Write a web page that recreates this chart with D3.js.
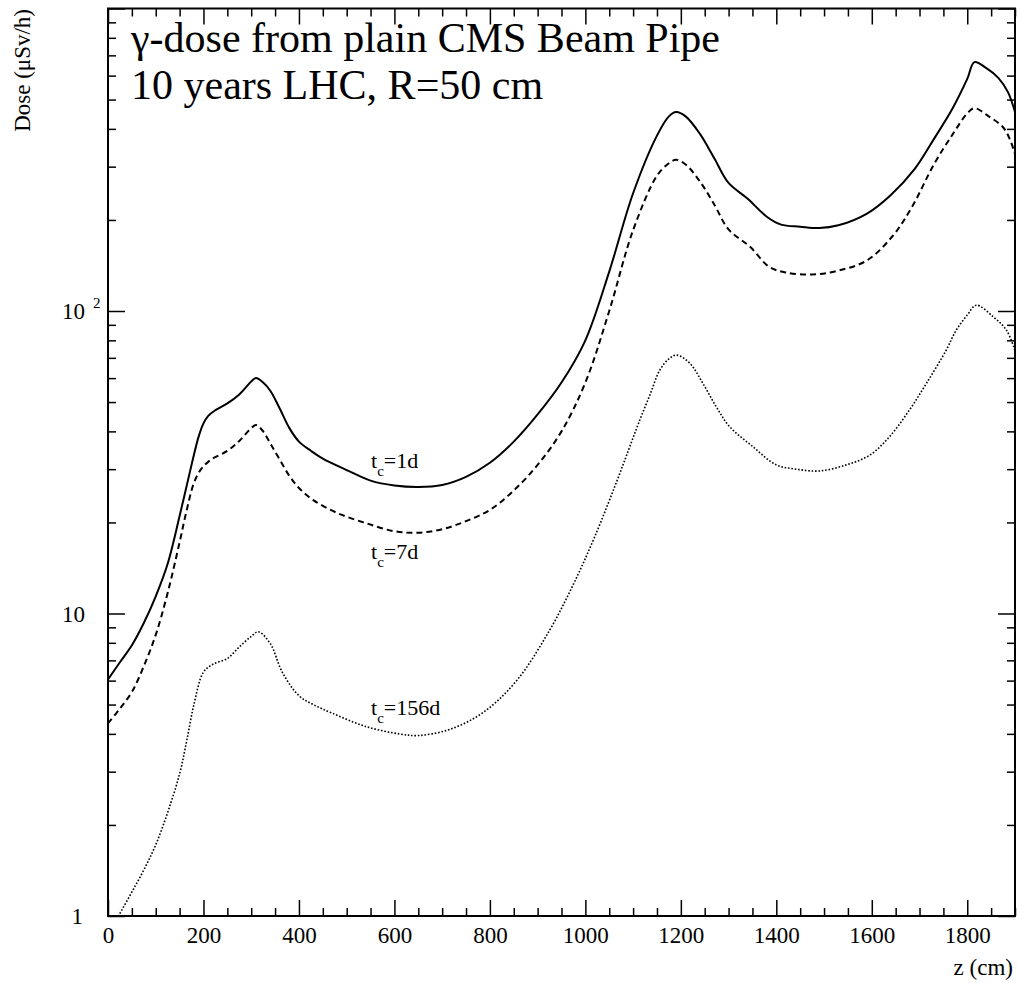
<!DOCTYPE html>
<html>
<head>
<meta charset="utf-8">
<script src="https://cdn.jsdelivr.net/npm/d3@7"></script>
<style>
  html, body { margin: 0; padding: 0; background: #fff; }
  svg { display: block; }
  text { font-family: "Liberation Serif", "Times New Roman", serif; fill: #000; }
</style>
</head>
<body>
<script>
// ---- data ----
const z1d = [0,25,50,75,100,125,150,175,190,200,210,225,250,275,300,310,325,340,360,380,400,425,450,500,550,600,650,700,750,800,850,900,950,1000,1050,1100,1150,1175,1190,1210,1240,1270,1300,1340,1380,1410,1450,1490,1530,1590,1640,1690,1730,1770,1800,1815,1840,1865,1885,1900];
const dose1d = [6.05,6.9,7.85,9.3,11.4,14.6,21,31,38.5,42.5,45,47,49.5,53,58.5,60,58,54.5,47.5,41,37,34.5,32.5,29.8,27.5,26.5,26.2,26.6,28.3,31.5,37,45.5,58,80,135,245,380,440,455,440,385,320,265,235,205,193,190,188,192,210,242,295,370,470,585,665,635,590,530,455];

const z7d = [0,25,50,75,100,125,150,165,180,195,215,250,275,300,310,325,340,360,380,400,430,480,540,600,650,700,750,800,850,900,950,1000,1050,1100,1150,1175,1190,1210,1240,1270,1300,1345,1385,1420,1475,1530,1590,1645,1685,1730,1770,1800,1815,1845,1875,1890,1900];
const dose7d = [4.33,4.85,5.5,6.7,8.5,11.7,17.2,22,27,30,32.2,34.5,37.2,41,42,40,36.5,32.2,28.5,26,23.7,21.5,19.9,18.7,18.5,19,20.2,22,25.5,31,40,58,100,185,280,308,316,305,268,225,186,163,140,134,132,136,147,178,222,305,385,450,468,440,405,367,330];

const z156d = [0,25,50,75,100,125,150,165,180,200,220,250,275,300,315,340,365,400,430,470,540,610,650,716,786,856,925,975,1020,1072,1093,1114,1135,1156,1175,1191,1219,1246,1274,1302,1351,1400,1442,1491,1547,1596,1637,1679,1714,1756,1777,1800,1819,1854,1882,1900];
const dose156d = [0.87,1.02,1.2,1.42,1.72,2.2,2.95,3.8,5.0,6.4,6.8,7.1,7.75,8.4,8.7,7.95,6.4,5.35,5.0,4.68,4.23,4.0,3.95,4.14,4.71,6.0,8.8,12.5,18,29,35.6,43.6,52.7,63.8,69.5,71.5,67.1,57.7,48.3,41.5,35.6,31.0,30.0,29.6,31.0,33.4,38.4,47.1,57.5,74.3,86.5,97,104.5,95.8,86.5,74];

const xMajorTicks = [0,200,400,600,800,1000,1200,1400,1600,1800];
const xTickLabels = ["0","200","400","600","800","1000","1200","1400","1600","1800"];
const yMajorTicks = [1,10,100,1000];
const titleLines = ["\u03b3-dose from plain CMS Beam Pipe", "10 years LHC, R=50 cm"];
const curveLabels = ["=1d", "=7d", "=156d"];

// ---- layout ----
const W = 1017, H = 983;
const L = 108, R = 1015, T = 8.5, B = 916;

const svg = d3.select("body").append("svg").attr("width", W).attr("height", H);

const x = d3.scaleLinear().domain([0, 1900]).range([L, R]);
const y = d3.scaleLog().domain([1, 1000]).range([B, T]);

// minor ticks
const xMinor = d3.range(0, 1901, 50).filter(v => v % 200 !== 0);
const yMinor = [];
[1, 10, 100].forEach(d => { for (let k = 2; k <= 9; k++) yMinor.push(d * k); });

const tickStroke = 1.5;

function styleAxis(g) {
  g.select(".domain").remove();
  g.selectAll(".tick line").attr("stroke", "#000").attr("stroke-width", tickStroke);
}

// bottom
svg.append("g").attr("transform", `translate(0,${B})`)
  .call(d3.axisBottom(x).tickValues(xMajorTicks).tickSize(-16).tickPadding(11)
        .tickFormat((d, i) => xTickLabels[i]))
  .call(styleAxis)
  .call(g => g.selectAll("text").attr("font-size", 23)
        .attr("font-family", '"Liberation Serif","Times New Roman",serif'));
svg.append("g").attr("transform", `translate(0,${B})`)
  .call(d3.axisBottom(x).tickValues(xMinor).tickSize(-8).tickFormat(""))
  .call(styleAxis);
// top
svg.append("g").attr("transform", `translate(0,${T})`)
  .call(d3.axisTop(x).tickValues(xMajorTicks).tickSize(-16).tickFormat(""))
  .call(styleAxis);
svg.append("g").attr("transform", `translate(0,${T})`)
  .call(d3.axisTop(x).tickValues(xMinor).tickSize(-8).tickFormat(""))
  .call(styleAxis);
// left
svg.append("g").attr("transform", `translate(${L},0)`)
  .call(d3.axisLeft(y).tickValues(yMajorTicks).tickSize(-17).tickFormat(""))
  .call(styleAxis);
svg.append("g").attr("transform", `translate(${L},0)`)
  .call(d3.axisLeft(y).tickValues(yMinor).tickSize(-8).tickFormat(""))
  .call(styleAxis);
// right
svg.append("g").attr("transform", `translate(${R},0)`)
  .call(d3.axisRight(y).tickValues(yMajorTicks).tickSize(-17).tickFormat(""))
  .call(styleAxis);
svg.append("g").attr("transform", `translate(${R},0)`)
  .call(d3.axisRight(y).tickValues(yMinor).tickSize(-8).tickFormat(""))
  .call(styleAxis);

// y tick labels
svg.append("text").attr("x", 83).attr("y", y(1) + 8).attr("text-anchor", "end")
  .attr("font-size", 23).text("1");
svg.append("text").attr("x", 85).attr("y", y(10) + 8).attr("text-anchor", "end")
  .attr("font-size", 23).text("10");
svg.append("text").attr("x", 85).attr("y", y(100) + 8).attr("text-anchor", "end")
  .attr("font-size", 23).text("10");
svg.append("text").attr("x", 93).attr("y", y(100) - 3).attr("text-anchor", "start")
  .attr("font-size", 15).text("2");

// frame
svg.append("rect").attr("x", L).attr("y", T).attr("width", R - L).attr("height", B - T)
  .attr("fill", "none").attr("stroke", "#000").attr("stroke-width", 2);

// clip
svg.append("clipPath").attr("id", "plotclip").append("rect")
  .attr("x", L).attr("y", T).attr("width", R - L).attr("height", B - T);

const line = d3.line().x(d => x(d[0])).y(d => y(d[1])).curve(d3.curveCatmullRom.alpha(0.5));
const plot = svg.append("g").attr("clip-path", "url(#plotclip)");

plot.append("path").datum(d3.zip(z1d, dose1d)).attr("d", line)
  .attr("fill", "none").attr("stroke", "#000").attr("stroke-width", 2);
plot.append("path").datum(d3.zip(z7d, dose7d)).attr("d", line)
  .attr("fill", "none").attr("stroke", "#000").attr("stroke-width", 2)
  .attr("stroke-dasharray", "6,4");
plot.append("path").datum(d3.zip(z156d, dose156d)).attr("d", line)
  .attr("fill", "none").attr("stroke", "#000").attr("stroke-width", 1.6)
  .attr("stroke-dasharray", "1.6,1.8");

// title
svg.append("text").attr("x", 131).attr("y", 52).attr("font-size", 42).text(titleLines[0]);
svg.append("text").attr("x", 131).attr("y", 99).attr("font-size", 42).text(titleLines[1]);

// curve labels
const labelPos = [[371, 468], [371, 559], [371, 715]];
curveLabels.forEach((s, i) => {
  const t = svg.append("text").attr("x", labelPos[i][0]).attr("y", labelPos[i][1]).attr("font-size", 22);
  t.append("tspan").text("t");
  t.append("tspan").attr("font-size", 15).attr("dy", 8).text("c");
  t.append("tspan").attr("dy", -8).text(s);
});

// axis titles
svg.append("text").attr("x", 1013).attr("y", 975).attr("text-anchor", "end")
  .attr("font-size", 23).text("z (cm)");
svg.append("text").attr("transform", "translate(30,9) rotate(-90)")
  .attr("text-anchor", "end").attr("font-size", 23).text("Dose (\u03bcSv/h)");
</script>
</body>
</html>
